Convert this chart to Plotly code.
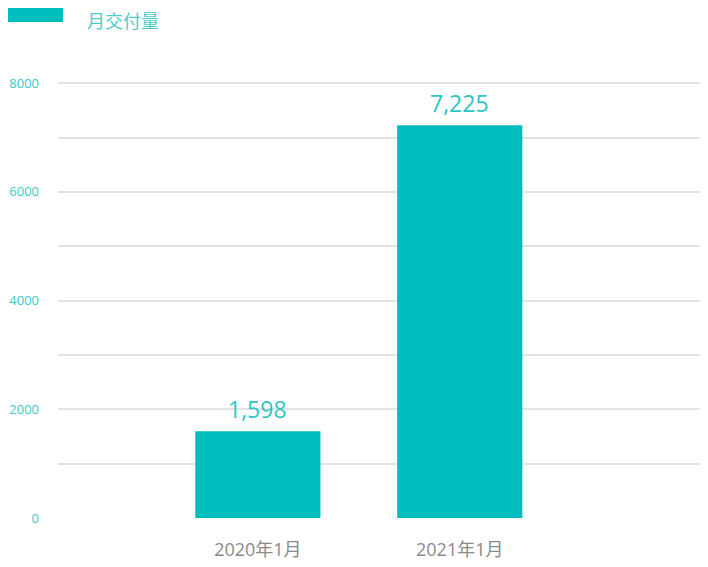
import plotly.graph_objects as go

categories = ["2020年1月", "2021年1月"]
values = [1598, 7225]
value_labels = ["1,598", "7,225"]
series_name = "月交付量"
y_tickvals = [0, 2000, 4000, 6000, 8000]

TEAL = "#00BDBD"
FONT = "Open Sans, Noto Sans CJK SC, sans-serif"

# figure is placed at (8,8) in the page by default body margin
W, H = 700, 559
L, R, T, B = 50, 8, 73, 49
plot_w = W - L - R
plot_h = H - T - B

fig = go.Figure()
fig.add_trace(go.Bar(
    x=categories, y=values, name=series_name,
    marker=dict(color=TEAL, line=dict(width=0)),
    width=0.62, showlegend=False,
))

annotations = [dict(x=c, y=v, text=t, showarrow=False, xref="x", yref="y",
                    yanchor="middle", yshift=22,
                    font=dict(color="#2ec4c4", size=23, family=FONT))
               for c, v, t in zip(categories, values, value_labels)]
annotations.append(dict(text=series_name, xref="paper", yref="paper",
                        x=(78 - L) / plot_w, y=(H - B) / plot_h,
                        xanchor="left", yanchor="top", showarrow=False,
                        borderpad=0,
                        font=dict(color="#4dcccc", size=18, family=FONT)))

fig.update_layout(
    width=W, height=H,
    margin=dict(l=L, r=R, t=T, b=B, autoexpand=False),
    paper_bgcolor="white", plot_bgcolor="white",
    font=dict(family=FONT),
    xaxis=dict(
        type="category", range=[-0.99, 2.19], automargin=False,
        showgrid=False, zeroline=False, showline=False,
        tickfont=dict(color="#8a8a8a", size=18, family=FONT),
        ticks="", ticklabelstandoff=19,
    ),
    yaxis=dict(
        range=[0, 8040], tickvals=y_tickvals, automargin=False,
        showgrid=True, gridcolor="#e3e3e3", gridwidth=1.5,
        minor=dict(dtick=1000, showgrid=True, gridcolor="#e3e3e3", gridwidth=1.5),
        zeroline=False, showline=False, ticks="",
        tickfont=dict(color="#3cc8c8", size=13, family=FONT),
        ticklabelstandoff=18,
    ),
    shapes=[dict(type="rect", xref="paper", yref="paper",
                 x0=(-4 - L) / plot_w, x1=(55 - L) / plot_w,
                 y0=(H - B - 14) / plot_h, y1=(H - B - 0) / plot_h,
                 fillcolor=TEAL, line=dict(width=0))],
    annotations=annotations,
)

fig.write_html("out.html")
